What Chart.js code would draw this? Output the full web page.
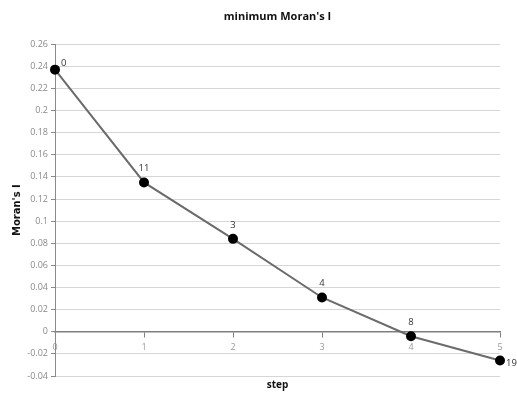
<!DOCTYPE html>
<html>
<head>
<meta charset="utf-8">
<script src="https://cdn.jsdelivr.net/npm/chart.js@4"></script>
<style>
  html, body { margin: 0; padding: 0; background: #fff; }
  #wrap { width: 517px; height: 395px; }
</style>
</head>
<body>
<div id="wrap"><canvas id="chart" width="517" height="395"></canvas></div>
<script>
// ---- data ----
const steps = [0, 1, 2, 3, 4, 5]
const moranI = [0.237, 0.135, 0.084, 0.031, -0.004, -0.026]
const pointLabels = ['0', '11', '3', '4', '8', '19']
const yTicks = [-0.04, -0.02, 0, 0.02, 0.04, 0.06, 0.08, 0.1, 0.12, 0.14, 0.16, 0.18, 0.2, 0.22, 0.24, 0.26]

// point labels: first and last sit to the right of the marker, the rest above
const pointLabelPlugin = {
  id: 'pointLabels',
  afterDatasetsDraw(chart) {
    const ctx = chart.ctx
    const meta = chart.getDatasetMeta(0)
    ctx.save()
    ctx.font = '9.5px "Open Sans", sans-serif'
    ctx.fillStyle = '#333'
    ctx.textBaseline = 'middle'
    meta.data.forEach((pt, i) => {
      const last = i === meta.data.length - 1
      if (i === 0) {
        ctx.textAlign = 'left'
        ctx.fillText(pointLabels[i], pt.x + 6, pt.y - 6)
      } else if (last) {
        ctx.textAlign = 'left'
        ctx.fillText(pointLabels[i], pt.x + 6, pt.y + 3)
      } else {
        ctx.textAlign = 'center'
        ctx.fillText(pointLabels[i], pt.x, pt.y - 14)
      }
    })
    ctx.restore()
  }
}

new Chart(document.getElementById('chart'), {
  type: 'line',
  data: {
    datasets: [{
      data: steps.map((s, i) => ({ x: s, y: moranI[i] })),
      borderColor: '#6b6b6b',
      borderWidth: 2,
      pointBackgroundColor: '#000',
      pointBorderColor: '#000',
      pointRadius: 4,
      tension: 0,
      clip: false,
    }]
  },
  options: {
    responsive: false,
    animation: false,
    layout: { padding: { left: 0, right: 17, top: 0, bottom: 0 } },
    plugins: {
      legend: { display: false },
      tooltip: { enabled: false },
      title: {
        display: true,
        fullSize: false,
        text: "minimum Moran's I",
        color: '#111',
        font: { family: '"Open Sans", sans-serif', size: 11, weight: 'bold' },
        padding: { top: 10, bottom: 21 },
      },
      subtitle: {
        display: true,
        fullSize: false,
        position: 'bottom',
        text: 'step',
        color: '#111',
        font: { family: '"Open Sans", sans-serif', size: 10, weight: 'bold' },
        padding: { top: 3, bottom: 4 },
      },
    },
    scales: {
      x: {
        type: 'linear',
        position: { y: 0 },
        min: 0,
        max: 5,
        afterBuildTicks: (s) => { s.ticks = steps.map(v => ({ value: v })) },
        grid: { drawOnChartArea: false, drawTicks: true, tickLength: 5, color: '#7f7f7f' },
        border: { color: '#7f7f7f', width: 1.5 },
        ticks: {
          color: '#9a9a9a',
          padding: 5,
          font: { family: '"Open Sans", sans-serif', size: 9 },
        },
      },
      y: {
        min: -0.04,
        max: 0.26,
        afterFit: (s) => { s.width = 55 },
        afterBuildTicks: (s) => { s.ticks = yTicks.map(v => ({ value: v })) },
        grid: { color: '#d6d6d6', tickLength: 4, tickColor: '#8a8a8a' },
        border: { color: '#8a8a8a' },
        title: {
          display: true,
          text: "Moran's I",
          color: '#111',
          font: { family: '"DejaVu Sans", sans-serif', size: 10, weight: 'bold' },
          padding: { top: 11, bottom: 0 },
        },
        ticks: {
          color: '#8a8a8a',
          padding: 3,
          font: { family: '"Open Sans", sans-serif', size: 9 },
          callback: (v) => String(+v.toFixed(2)),
        },
      },
    },
  },
  plugins: [pointLabelPlugin],
})
</script>
</body>
</html>
